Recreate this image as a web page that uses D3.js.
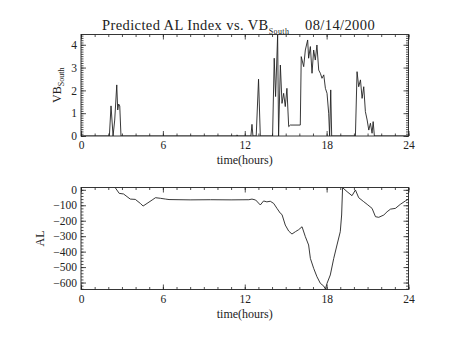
<!DOCTYPE html>
<html>
<head>
<meta charset="utf-8">
<script src="https://cdn.jsdelivr.net/npm/d3@7"></script>
<style>
  body { margin: 0; background: #fff; }
  svg { display: block; }
  text { font-family: "Liberation Serif", "DejaVu Serif", serif; fill: #222; }
</style>
</head>
<body>
<svg id="chart" width="454" height="341"></svg>
<script>
// Southward IMF-driven input (VB_south) against time of day
const vbHours = [0, 2.08, 2.20, 2.35, 2.47, 2.62, 2.69, 2.76, 2.84, 2.93, 11.35, 11.43, 11.5,
  12.45, 12.53, 12.6, 12.84, 13.01, 13.14, 14.04, 14.16, 14.26, 14.41, 14.48, 14.61, 14.73,
  14.85, 14.97, 15.09, 15.22, 15.34, 16.07, 16.14, 16.32, 16.44, 16.61, 16.68, 16.81, 16.93,
  17.05, 17.17, 17.29, 17.42, 17.54, 17.66, 17.79, 17.91, 18.03, 18.15, 18.22, 18.30, 18.37,
  20.11, 20.23, 20.35, 20.48, 20.60, 20.72, 20.84, 20.97, 21.09, 21.21, 21.33, 21.41, 21.50, 24];
const vbValues = [0, 0, 1.32, 0, 0.70, 2.24, 1.14, 1.40, 1.32, 0, 0, 0.05, 0,
  0, 0.51, 0, 0, 2.49, 0, 0, 3.41, 1.73, 4.43, 0, 3.11, 1.43,
  1.87, 1.29, 2.09, 0.41, 0.48, 0.48, 3.48, 3.04, 3.77, 4.21, 3.41, 3.92, 2.75,
  3.77, 3.33, 3.99, 2.89, 2.75, 2.53, 2.68, 2.09, 1.87, 1.00, 0, 2.02, 0,
  0, 2.82, 2.16, 2.46, 1.65, 2.16, 1.07, 0.70, 0.26, 0.56, 0.12, 0.63, 0, 0];

// Predicted AL index (nT) against time of day
const alHours = [2.50, 2.80, 3.12, 3.61, 3.98, 4.35, 4.55, 4.84, 5.21, 5.46, 5.83, 6.20, 6.45,
  8.0, 9.5, 11.0, 12.30, 12.53, 12.80, 13.14, 13.38, 13.62, 13.87, 14.12, 14.36, 14.61, 14.73,
  14.97, 15.22, 15.46, 15.71, 15.95, 16.20, 16.44, 16.68, 16.81, 17.05, 17.29, 17.54, 17.79,
  17.91, 18.03, 18.27, 18.52, 18.76, 19.00, 19.10, 19.17, 19.50, 19.86, 20.11, 20.35, 20.72,
  20.97, 21.33, 21.58, 21.82, 22.19, 22.43, 22.68, 23.04, 23.40, 23.77, 24.0];
const alValues = [15, -23, -27, -60, -62, -88, -105, -88, -66, -51, -55, -60, -63,
  -65, -64, -65, -64, -60, -66, -98, -72, -78, -74, -88, -120, -152, -160,
  -228, -267, -286, -271, -258, -239, -303, -357, -444, -508, -562, -605, -623,
  -642, -605, -551, -444, -357, -271, -163, 14, -12, -38, -1, -51, -77,
  -94, -120, -174, -178, -163, -142, -125, -120, -94, -72, -60];

// Axis ticks
const hourTicks = [0, 6, 12, 18, 24];
const vbTicks = [0, 1, 2, 3, 4];
const alTicks = [0, -100, -200, -300, -400, -500, -600];

const svg = d3.select("#chart");
svg.append("rect").attr("width", 454).attr("height", 341).attr("fill", "#fff");

const plotLeft = 81, plotRight = 408.5;
const ink = "#222";

function panel(opts) {
  const { y0, y1, yDomain, yMajor, yMinorStep, xs, ys, id } = opts;
  const x = d3.scaleLinear().domain([0, 24]).range([plotLeft, plotRight]);
  const y = d3.scaleLinear().domain(yDomain).range([y1, y0]);
  const g = svg.append("g");

  const xMinor = d3.range(0, 24.001, 1);
  const yMinor = d3.range(Math.ceil(yDomain[0] / yMinorStep) * yMinorStep, yDomain[1] + 1e-9, yMinorStep);

  function styleAxis(sel) {
    sel.select(".domain").remove();
    sel.selectAll("line").attr("stroke", ink).attr("stroke-width", 0.8);
    sel.selectAll("text").attr("font-size", 11.5).attr("fill", ink)
      .style("font-family", '"Liberation Serif", "DejaVu Serif", serif');
  }

  // bottom axis: labelled majors + minors, ticks pointing inward
  g.append("g").attr("transform", `translate(0,${y1})`)
    .call(d3.axisBottom(x).tickValues(hourTicks).tickSize(-5).tickPadding(5).tickFormat(d3.format("d")))
    .call(styleAxis);
  g.append("g").attr("transform", `translate(0,${y1})`)
    .call(d3.axisBottom(x).tickValues(xMinor).tickSize(-2.5).tickFormat(""))
    .call(styleAxis);
  // top axis mirrors
  g.append("g").attr("transform", `translate(0,${y0})`)
    .call(d3.axisTop(x).tickValues(hourTicks).tickSize(-5).tickFormat(""))
    .call(styleAxis);
  g.append("g").attr("transform", `translate(0,${y0})`)
    .call(d3.axisTop(x).tickValues(xMinor).tickSize(-2.5).tickFormat(""))
    .call(styleAxis);
  // left axis
  g.append("g").attr("transform", `translate(${plotLeft},0)`)
    .call(d3.axisLeft(y).tickValues(yMajor).tickSize(-5).tickPadding(4)
      .tickFormat(d => d < 0 ? "\u2212" + Math.abs(d) : String(d)))
    .call(styleAxis);
  g.append("g").attr("transform", `translate(${plotLeft},0)`)
    .call(d3.axisLeft(y).tickValues(yMinor).tickSize(-2.5).tickFormat(""))
    .call(styleAxis);
  // right axis mirrors
  g.append("g").attr("transform", `translate(${plotRight},0)`)
    .call(d3.axisRight(y).tickValues(yMajor).tickSize(-5).tickFormat(""))
    .call(styleAxis);
  g.append("g").attr("transform", `translate(${plotRight},0)`)
    .call(d3.axisRight(y).tickValues(yMinor).tickSize(-2.5).tickFormat(""))
    .call(styleAxis);

  // frame
  g.append("rect").attr("x", plotLeft).attr("y", y0)
    .attr("width", plotRight - plotLeft).attr("height", y1 - y0)
    .attr("fill", "none").attr("stroke", ink).attr("stroke-width", 0.9);

  // clipped data line
  svg.append("clipPath").attr("id", id)
    .append("rect").attr("x", plotLeft).attr("y", y0)
    .attr("width", plotRight - plotLeft).attr("height", y1 - y0);
  const line = d3.line().x(d => x(d[0])).y(d => y(d[1]));
  g.append("path")
    .datum(d3.zip(xs, ys))
    .attr("clip-path", `url(#${id})`)
    .attr("d", line)
    .attr("fill", "none").attr("stroke", ink).attr("stroke-width", 0.9);

  // x title
  g.append("text").attr("x", (plotLeft + plotRight) / 2).attr("y", y1 + 28)
    .attr("text-anchor", "middle").attr("font-size", 12).text("time(hours)");

  return { x, y, g };
}

const vbPanel = panel({
  id: "clipVB", y0: 34.5, y1: 136, yDomain: [0, 4.45],
  yMajor: vbTicks, yMinorStep: 0.1, xs: vbHours, ys: vbValues
});
const alPanel = panel({
  id: "clipAL", y0: 187.5, y1: 289.5, yDomain: [-645, 15],
  yMajor: alTicks, yMinorStep: 20, xs: alHours, ys: alValues
});

// y titles
const vbTitle = svg.append("text")
  .attr("transform", `translate(61,${(34.5 + 136) / 2}) rotate(-90)`)
  .attr("text-anchor", "middle").attr("font-size", 12);
vbTitle.append("tspan").text("VB");
vbTitle.append("tspan").attr("font-size", 8).attr("dy", 3).text("South");

svg.append("text")
  .attr("transform", `translate(44,${(187.5 + 289.5) / 2}) rotate(-90)`)
  .attr("text-anchor", "middle").attr("font-size", 12).text("AL");

// main title
const title = svg.append("text").attr("x", 102).attr("y", 30).attr("font-size", 14.5)
  .attr("letter-spacing", 0.4);
title.append("tspan").text("Predicted AL Index vs. VB");
title.append("tspan").attr("font-size", 8).attr("dy", 4).text("South");
title.append("tspan").attr("dy", -4).attr("x", 305).text("08/14/2000");
</script>
</body>
</html>
